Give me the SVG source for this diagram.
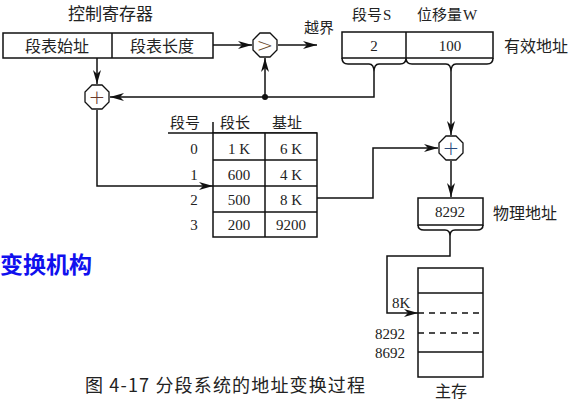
<svg xmlns="http://www.w3.org/2000/svg" xmlns:xlink="http://www.w3.org/1999/xlink" width="579" height="403" viewBox="0 0 579 403">
<style>
.t{font-family:"Liberation Serif","Noto Sans CJK SC",serif;fill:#222;}
.c{font-family:"Noto Sans CJK SC","Liberation Serif",sans-serif;fill:#222;}
.box{fill:#fff;stroke:#111;stroke-width:1.5;}
.ln{fill:none;stroke:#111;stroke-width:1.5;}
.op{fill:#fff;stroke:#111;stroke-width:1.3;}
.dash{fill:none;stroke:#111;stroke-width:1.3;stroke-dasharray:6,5;}
</style>
<defs>
<marker id="ah" viewBox="0 0 14 8" refX="14" refY="4" markerWidth="14" markerHeight="8" markerUnits="userSpaceOnUse" orient="auto">
<path d="M0,0 L14,4 L0,8 L4,4 Z" fill="#111"/>
</marker>
<polygon id="oct" points="12,-5 5,-12 -5,-12 -12,-5 -12,5 -5,12 5,12 12,5"/>
</defs>

<g id="connectors">
<line class="ln" x1="213" y1="45" x2="252" y2="45" marker-end="url(#ah)"/>
<line class="ln" x1="278" y1="45" x2="317" y2="45" marker-end="url(#ah)"/>
<line class="ln" x1="265" y1="97" x2="265" y2="58" marker-end="url(#ah)"/>
<path class="ln" d="M374,72 V97 H110" marker-end="url(#ah)"/>
<circle cx="265" cy="97" r="3" fill="#111"/>
<line class="ln" x1="97" y1="50" x2="97" y2="84" marker-end="url(#ah)"/>
<path class="ln" d="M97,110 V186 H213" marker-end="url(#ah)"/>
<path class="ln" d="M317,198 H373 V148 H438" marker-end="url(#ah)"/>
<line class="ln" x1="451" y1="72" x2="451" y2="135" marker-end="url(#ah)"/>
<line class="ln" x1="451" y1="161" x2="451" y2="197" marker-end="url(#ah)"/>
<path class="ln" d="M450,236 V256 H387 V313 H418" marker-end="url(#ah)"/>
</g>

<g id="control-register">
<text class="c" x="68" y="20" font-size="17">控制寄存器</text>
<rect class="box" x="3" y="33" width="210" height="25"/>
<line class="ln" x1="112" y1="33" x2="112" y2="58"/>
<text class="c" x="57" y="52" font-size="16" text-anchor="middle">段表始址</text>
<text class="c" x="162" y="52" font-size="16" text-anchor="middle">段表长度</text>
</g>

<g id="comparator">
<use xlink:href="#oct" x="265" y="45" class="op"/>
<text x="265" y="52" font-size="20" text-anchor="middle" fill="#6a4a2a" font-family="DejaVu Sans, sans-serif" font-weight="200">&gt;</text>
</g>
<g id="overflow">
<text class="c" x="304" y="33" font-size="15">越界</text>
</g>

<g id="adder1">
<use xlink:href="#oct" x="97" y="97" class="op"/>
<text x="97" y="104" font-size="20" text-anchor="middle" fill="#6a3a2a" font-family="DejaVu Sans, sans-serif" font-weight="200">+</text>
</g>

<g id="effective-address">
<text class="c" x="352" y="20" font-size="15">段号</text>
<text class="t" x="383" y="20" font-size="15">S</text>
<text class="c" x="417" y="20" font-size="15">位移量</text>
<text class="t" x="463" y="20" font-size="15">W</text>
<rect class="box" x="342" y="32" width="151" height="26"/>
<line class="ln" x1="406" y1="32" x2="406" y2="58"/>
<text class="t" x="374" y="51" font-size="15" text-anchor="middle">2</text>
<text class="t" x="450" y="51" font-size="15" text-anchor="middle">100</text>
<path class="ln" d="M342,58 Q342,64 348,64 H369 Q374,64 374,72 Q374,64 379,64 H400 Q406,64 406,58 Q406,64 412,64 H446 Q451,64 451,72 Q451,64 456,64 H487 Q493,64 493,58"/>
<text class="c" x="504" y="52" font-size="16">有效地址</text>
</g>

<g id="segment-table">
<text class="c" x="170" y="128" font-size="15">段号</text>
<text class="c" x="220" y="128" font-size="15">段长</text>
<text class="c" x="272" y="128" font-size="15">基址</text>
<line class="ln" x1="168" y1="133" x2="317" y2="133"/>
<line class="ln" x1="213" y1="122" x2="213" y2="133"/>
<rect class="box" x="213" y="133" width="104" height="104"/>
<line class="ln" x1="265" y1="133" x2="265" y2="237"/>
<line class="ln" x1="213" y1="160" x2="317" y2="160"/>
<line class="ln" x1="213" y1="186" x2="317" y2="186"/>
<line class="ln" x1="213" y1="212" x2="317" y2="212"/>
<g class="t" font-size="15" text-anchor="middle">
<text x="194" y="154">0</text><text x="239" y="154">1 K</text><text x="291" y="154">6 K</text>
<text x="194" y="180">1</text><text x="239" y="180">600</text><text x="291" y="180">4 K</text>
<text x="194" y="205">2</text><text x="239" y="205">500</text><text x="291" y="205">8 K</text>
<text x="194" y="230">3</text><text x="239" y="230">200</text><text x="291" y="230">9200</text>
</g>
</g>

<g id="adder2">
<use xlink:href="#oct" x="451" y="148" class="op"/>
<text x="451" y="155" font-size="20" text-anchor="middle" fill="#2a4a7a" font-family="DejaVu Sans, sans-serif" font-weight="200">+</text>
</g>

<g id="physical-address">
<rect class="box" x="418" y="198" width="65" height="27"/>
<text class="t" x="450" y="217" font-size="15" text-anchor="middle">8292</text>
<path class="ln" d="M418,225 Q418,230 424,230 H445 Q450,230 450,236 Q450,230 455,230 H477 Q483,230 483,225"/>
<text class="c" x="493" y="219" font-size="16">物理地址</text>
</g>

<g id="main-memory">
<rect class="box" x="418" y="268" width="65" height="109"/>
<line class="ln" x1="418" y1="293" x2="483" y2="293"/>
<line class="dash" x1="418" y1="313" x2="483" y2="313"/>
<line class="dash" x1="418" y1="333" x2="483" y2="333"/>
<line class="ln" x1="418" y1="352" x2="483" y2="352"/>
<text class="t" x="392" y="308" font-size="15">8K</text>
<text class="t" x="375" y="339" font-size="15">8292</text>
<text class="t" x="375" y="358" font-size="15">8692</text>
<text class="c" x="451" y="397" font-size="16" text-anchor="middle">主存</text>
</g>

<g id="title">
<text x="0" y="273" font-size="23" font-weight="bold" fill="#1010ee" font-family="Noto Sans CJK SC, sans-serif">变换机构</text>
</g>

<g id="caption">
<text class="c" x="85" y="392" font-size="18" textLength="280" lengthAdjust="spacing">图 4-17 分段系统的地址变换过程</text>
</g>
</svg>
